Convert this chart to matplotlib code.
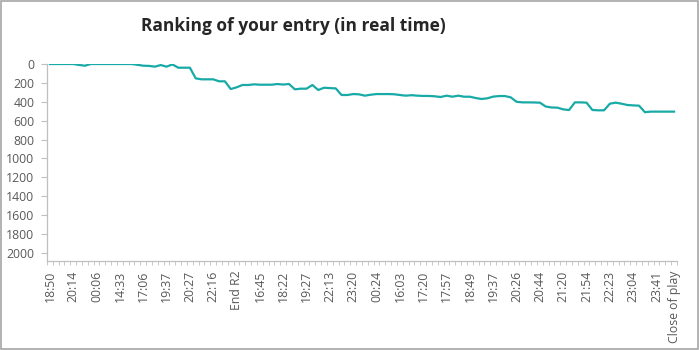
import numpy as np
import matplotlib.pyplot as plt
from matplotlib.patches import Rectangle

plt.rcParams["font.family"] = ["Open Sans", "DejaVu Sans"]

# ranking at each update (0 = top of the table)
ranking = [
    0, 0, 0, 0, 0, 10, 18, 0, 0, 0,
    0, 0, 0, 0, 0, 8, 18, 20, 28, 11,
    28, 4, 39, 39, 39, 152, 162, 162, 162, 183,
    183, 265, 247, 222, 222, 215, 219, 219, 219, 212,
    217, 212, 268, 261, 261, 222, 275, 251, 255, 258,
    328, 328, 318, 321, 335, 325, 318, 318, 318, 320,
    328, 335, 330, 335, 338, 338, 342, 349, 335, 346,
    335, 346, 346, 360, 370, 363, 345, 339, 339, 353,
    400, 406, 406, 407, 409, 450, 460, 462, 480, 487,
    406, 406, 409, 487, 490, 490, 420, 409, 420, 434,
    438, 441, 510, 504, 504, 504, 504, 504,
]

tick_labels = [
    "18:50", "20:14", "00:06", "14:33", "17:06", "19:37", "20:27",
    "22:16", "End R2", "16:45", "18:22", "19:27", "22:13", "23:20",
    "00:24", "16:03", "17:20", "17:57", "18:49", "19:37", "20:26",
    "20:44", "21:20", "21:54", "22:23", "23:04", "23:41", "Close of play",
]

n = len(ranking)
x = np.arange(n)
label_pos = list(range(0, 4 * (len(tick_labels) - 1), 4)) + [n - 1]

fig = plt.figure(figsize=(6.99, 3.5), dpi=100)
ax = fig.add_axes([0.0672, 0.2543, 0.9013, 0.5628])

ax.plot(x, ranking, color="#17aaa6", lw=1.6, solid_joinstyle="round")

ax.set_xlim(-0.5, n - 0.5)
ax.set_ylim(2085, 0)
ax.set_yticks(np.arange(0, 2001, 200))
ax.tick_params(axis="y", labelsize=8.8, colors="#595959", length=4,
               width=0.8, pad=5)
ax.tick_params(axis="y", color="#bfbfbf")

ax.set_xticks(label_pos)
ax.set_xticklabels(tick_labels, rotation=90)
ax.set_xticks(np.arange(-0.5, n, 1), minor=True)
ax.tick_params(axis="x", which="major", length=0, labelsize=8.8,
               labelcolor="#595959", pad=7)
ax.tick_params(axis="x", which="minor", length=3, width=0.6,
               color="#bfbfbf")

for side in ["top", "right"]:
    ax.spines[side].set_visible(False)
for side in ["left", "bottom"]:
    ax.spines[side].set_color("#bfbfbf")
    ax.spines[side].set_linewidth(0.9)

fig.text(0.42, 0.925, "Ranking of your entry (in real time)",
         ha="center", va="center", fontsize=12.5, fontweight="bold",
         color="#262626")

fig.patches.append(Rectangle((0.001, 0.002), 0.997, 0.995,
                             transform=fig.transFigure, fill=False,
                             edgecolor="#a6a6a6", lw=1.2))

fig.savefig("out.png", dpi=100)
